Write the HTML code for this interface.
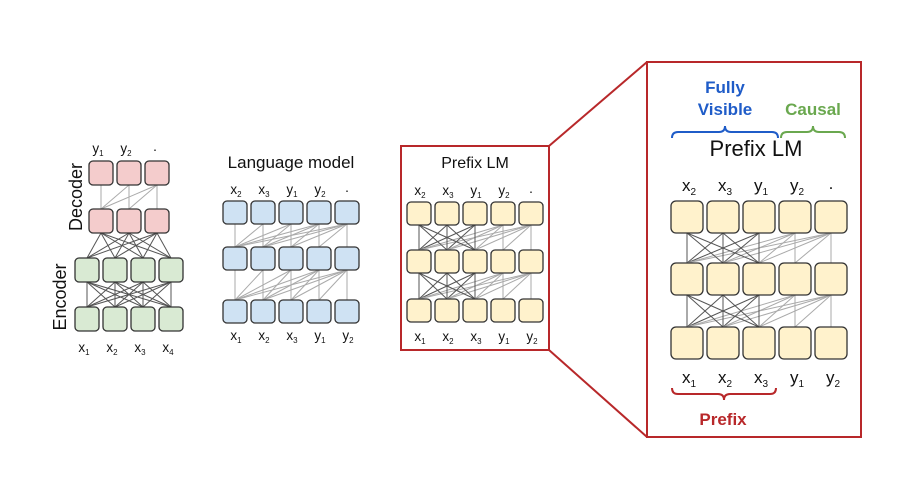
<!DOCTYPE html>
<html><head><meta charset="utf-8"><style>
html,body{margin:0;padding:0;background:#fff;width:900px;height:497px;overflow:hidden}
svg{display:block;font-family:"Liberation Sans",sans-serif}
</style></head><body>
<svg id="s" width="900" height="497" viewBox="0 0 900 497">
<g id="lines"></g>
<g id="boxes"></g>
<rect x="401" y="146" width="148" height="204" fill="none" stroke="#b8282a" stroke-width="2"/>
<rect x="647" y="62" width="214" height="375" fill="none" stroke="#b8282a" stroke-width="2"/>
<line x1="549" y1="146" x2="647" y2="62" stroke="#b8282a" stroke-width="2"/>
<line x1="549" y1="350" x2="647" y2="437" stroke="#b8282a" stroke-width="2"/>

<g fill="#111" font-size="13.5" text-anchor="middle">
<text x="98" y="153">y<tspan font-size="8" dy="3">1</tspan></text>
<text x="126" y="153">y<tspan font-size="8" dy="3">2</tspan></text>
<text x="155" y="151">.</text>
<text x="84" y="352">x<tspan font-size="8" dy="3">1</tspan></text>
<text x="112" y="352">x<tspan font-size="8" dy="3">2</tspan></text>
<text x="140" y="352">x<tspan font-size="8" dy="3">3</tspan></text>
<text x="168" y="352">x<tspan font-size="8" dy="3">4</tspan></text>
<text transform="translate(82,197) rotate(-90)" font-size="18">Decoder</text>
<text transform="translate(66,297) rotate(-90)" font-size="18">Encoder</text>
<text x="291" y="168" font-size="17">Language model</text>
<text x="236" y="194">x<tspan font-size="8" dy="3">2</tspan></text>
<text x="264" y="194">x<tspan font-size="8" dy="3">3</tspan></text>
<text x="292" y="194">y<tspan font-size="8" dy="3">1</tspan></text>
<text x="320" y="194">y<tspan font-size="8" dy="3">2</tspan></text>
<text x="347" y="192">.</text>
<text x="236" y="340">x<tspan font-size="8" dy="3">1</tspan></text>
<text x="264" y="340">x<tspan font-size="8" dy="3">2</tspan></text>
<text x="292" y="340">x<tspan font-size="8" dy="3">3</tspan></text>
<text x="320" y="340">y<tspan font-size="8" dy="3">1</tspan></text>
<text x="348" y="340">y<tspan font-size="8" dy="3">2</tspan></text>
<text x="475" y="168" font-size="16">Prefix LM</text>
<text x="420" y="195">x<tspan font-size="8" dy="3">2</tspan></text>
<text x="448" y="195">x<tspan font-size="8" dy="3">3</tspan></text>
<text x="476" y="195">y<tspan font-size="8" dy="3">1</tspan></text>
<text x="504" y="195">y<tspan font-size="8" dy="3">2</tspan></text>
<text x="531" y="193">.</text>
<text x="420" y="341">x<tspan font-size="8" dy="3">1</tspan></text>
<text x="448" y="341">x<tspan font-size="8" dy="3">2</tspan></text>
<text x="476" y="341">x<tspan font-size="8" dy="3">3</tspan></text>
<text x="504" y="341">y<tspan font-size="8" dy="3">1</tspan></text>
<text x="532" y="341">y<tspan font-size="8" dy="3">2</tspan></text>
</g>
<g fill="#111" font-size="17" text-anchor="middle">
<text x="689" y="191">x<tspan font-size="10" dy="4">2</tspan></text>
<text x="725" y="191">x<tspan font-size="10" dy="4">3</tspan></text>
<text x="761" y="191">y<tspan font-size="10" dy="4">1</tspan></text>
<text x="797" y="191">y<tspan font-size="10" dy="4">2</tspan></text>
<text x="831" y="189">.</text>
<text x="689" y="383">x<tspan font-size="10" dy="4">1</tspan></text>
<text x="725" y="383">x<tspan font-size="10" dy="4">2</tspan></text>
<text x="761" y="383">x<tspan font-size="10" dy="4">3</tspan></text>
<text x="797" y="383">y<tspan font-size="10" dy="4">1</tspan></text>
<text x="833" y="383">y<tspan font-size="10" dy="4">2</tspan></text>
<text x="756" y="156" font-size="22">Prefix LM</text>
</g>
<g font-weight="bold" font-size="17" text-anchor="middle">
<text x="725" y="93" fill="#1f5cc8">Fully</text>
<text x="725" y="115" fill="#1f5cc8">Visible</text>
<text x="813" y="115" fill="#6aa84f">Causal</text>
<text x="723" y="425" fill="#b8282a">Prefix</text>
</g>
<g fill="none" stroke-width="2">
<path d="M672,138 q0,-6 6,-6 h41 q6,0 6,-6 q0,6 6,6 h41 q6,0 6,6" stroke="#1f5cc8"/>
<path d="M781,138 q0,-6 6,-6 h20 q6,0 6,-6 q0,6 6,6 h20 q6,0 6,6" stroke="#6aa84f"/>
<path d="M672,388 q0,6 6,6 h40 q6,0 6,6 q0,-6 6,-6 h40 q6,0 6,-6" stroke="#b8282a"/>
</g>
</svg>
<script>
var NS="http://www.w3.org/2000/svg",L=document.getElementById("lines"),B=document.getElementById("boxes");
function el(p,t,a){var e=document.createElementNS(NS,t);for(var k in a)e.setAttribute(k,a[k]);p.appendChild(e);}
function row(xs,y,w,h,fill,r){xs.forEach(function(x){el(B,"rect",{x:x,y:y,width:w,height:h,rx:r,fill:fill,stroke:"#333","stroke-width":1.3});});}
function conn(xs1,yl,xs2,yu,w,f){for(var i=0;i<xs1.length;i++)for(var j=0;j<xs2.length;j++){var c=f(i,j);if(c)el(L,"line",{x1:xs1[i]+w/2,y1:yl,x2:xs2[j]+w/2,y2:yu,stroke:c,"stroke-width":1});}}
var dark="#555",lite="#aaa";
var dx=[89,117,145],ex=[75,103,131,159];
conn(dx,209,dx,185,24,function(i,j){return i<=j?lite:null});
conn(ex,258,dx,233,24,function(){return dark});
conn(ex,307,ex,282,24,function(){return dark});
row(dx,161,24,24,"#f4cccc",4);row(dx,209,24,24,"#f4cccc",4);
row(ex,258,24,24,"#d9ead3",4);row(ex,307,24,24,"#d9ead3",4);
var lx=[223,251,279,307,335];
conn(lx,247,lx,224,24,function(i,j){return i<=j?lite:null});
conn(lx,300,lx,270,24,function(i,j){return i<=j?lite:null});
[201,247,300].forEach(function(y){row(lx,y,24,23,"#cfe2f3",4)});
function pf(i,j){if(j<3&&i<3)return dark;if(i<=j)return lite;return null;}
var px=[407,435,463,491,519];
conn(px,250,px,225,24,pf);conn(px,299,px,273,24,pf);
[202,250,299].forEach(function(y){row(px,y,24,23,"#fff2cc",4)});
var bx=[671,707,743,779,815];
conn(bx,263,bx,233,32,pf);conn(bx,327,bx,295,32,pf);
[201,263,327].forEach(function(y){row(bx,y,32,32,"#fff2cc",5)});
</script>
</body></html>
